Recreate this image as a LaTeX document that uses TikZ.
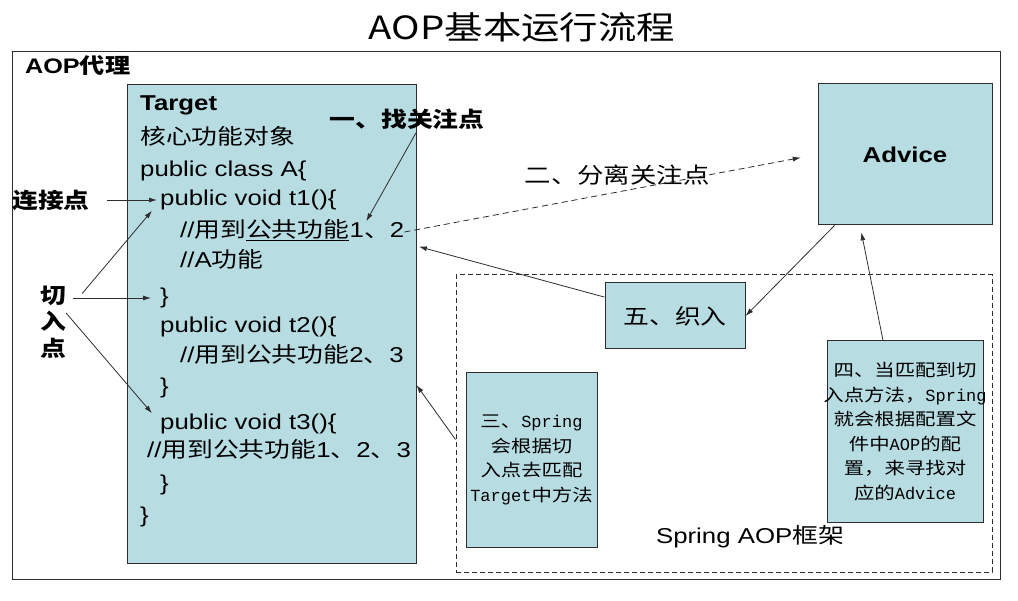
\documentclass[tikz,border=0pt]{standalone}
\usepackage{fontspec}
\setmainfont{Liberation Sans}[FakeStretch=1.2]
\newfontfamily\cjk{Noto Sans CJK SC}[FakeStretch=1.2]
\newfontfamily\mono{Liberation Mono}
\usetikzlibrary{arrows.meta,positioning}
\definecolor{aopcyan}{RGB}{183,221,227}
\definecolor{aopline}{RGB}{45,45,45}

\begin{document}
\begin{tikzpicture}[
  x=1pt, y=-1pt,
  every node/.style={font=\fontsize{21.5}{26}\selectfont, text=black},
  aopbox/.style={draw=aopline, fill=aopcyan, line width=1pt},
  code/.style={anchor=west, inner sep=0pt, text height=16pt, text depth=5pt},
  note/.style={aopbox, align=center, inner xsep=3pt, inner ysep=0pt, font=\fontsize{17}{24.5}\selectfont\cjk},
  tag/.style={font=\fontsize{21.5}{26}\selectfont\bfseries\cjk},
  arrow/.style={-{Latex[length=8pt,width=5pt]}, line width=0.8pt, aopline},
  dasharrow/.style={arrow, dash pattern=on 6pt off 4pt}
]
  \useasboundingbox (0,0) rectangle (1018,601);

  % Frames
  \node (title) [font=\fontsize{32}{36}\selectfont\cjk] at (522,27) {AOP基本运行流程};
  \node (proxy) [draw=aopline, line width=1pt, inner sep=0pt, minimum width=988pt, minimum height=527pt] at (506,315.5) {};
  \node (proxyname) [anchor=west, inner sep=0pt, font=\fontsize{21}{26}\selectfont\bfseries] at (25,66) {AOP{\cjk 代理}};
  \node (frame) [draw=aopline, line width=1pt, dash pattern=on 5pt off 3pt, inner sep=0pt, minimum width=536pt, minimum height=297pt] at (724,423.5) {};
  \node (aopfw) at (750,537) {Spring AOP{\cjk 框架}};

  % Boxes
  \node (target) [aopbox, inner sep=0pt, minimum width=289pt, minimum height=478pt] at (271.5,324) {};
  \node (advice) [aopbox, minimum width=174pt, minimum height=141pt, font=\fontsize{21.5}{26}\selectfont\bfseries] at (905,154.5) {Advice};
  \node (weave) [aopbox, minimum width=140pt, minimum height=66pt, font=\fontsize{21.5}{26}\selectfont\cjk] at (675,316) {五、织入};
  \node (match) [note, text width=125pt, minimum height=174pt] at (531.5,460)
    {三、{\mono Spring}\\会根据切\\入点去匹配\\{\mono Target}中方法};
  \node (lookup) [note, text width=150pt, minimum height=181pt] at (905,431.5)
    {四、当匹配到切\\\makebox[150pt][c]{入点方法，{\mono Spring}}\\就会根据配置文\\件中{\mono AOP}的配\\置，来寻找对\\应的{\mono Advice}};

  % Code in Target
  \node (tgt) [code, font=\fontsize{21.5}{26}\selectfont\bfseries] at (140,105) {Target};
  \node (core) [code] at (140,139) {\cjk 核心功能对象};
  \node (cls) [code] at (140,171) {public class A\{};
  \node (t1sig) [code] at (160,200) {public void t1()\{};
  \node (t1use) [code] at (180,232) {//{\cjk 用到}\underline{\cjk 公共功能}};
  \node (t12) [code, right=0pt of t1use] {1{\cjk 、}2};
  \node (t1a) [code] at (180,262) {//A{\cjk 功能}};
  \node (t1end) [code] at (160,298) {\}};
  \node (t2sig) [code] at (160,327) {public void t2()\{};
  \node (t2use) [code] at (180,357) {//{\cjk 用到公共功能}2{\cjk 、}3};
  \node (t2end) [code] at (160,388) {\}};
  \node (t3sig) [code] at (160,424) {public void t3()\{};
  \node (t3use) [code] at (147,452) {//{\cjk 用到公共功能}1{\cjk 、}2{\cjk 、}3};
  \node (t3end) [code] at (160,485) {\}};
  \node (clsend) [code] at (140,517) {\}};

  % Labels
  \node (joinpt) [tag, anchor=west, inner sep=0pt] at (12,200) {连接点};
  \node (cutpt) [tag, align=center, inner sep=0pt, font=\fontsize{21.5}{26.5}\selectfont\bfseries\cjk] at (53,322) {切\\入\\点};
  \node (findcon) [tag] at (407,119) {一、找关注点};
  \node (split) [font=\fontsize{22}{26}\selectfont\cjk] at (617,175) {二、分离关注点};

  % Paths
  \draw [arrow, shorten <=17pt, shorten >=3pt] (joinpt) -- (t1sig);
  \draw [arrow] ([shift={(16pt,-8pt)}]cutpt.north east) -- ([xshift=-8pt]t1sig.south west);
  \draw [arrow, shorten <=7pt, shorten >=9pt] (cutpt.east |- t1end.west) -- (t1end.west);
  \draw [arrow] ([yshift=9pt]cutpt.east) -- ([xshift=-8pt]t3sig.north west);
  \draw [arrow] ([xshift=9pt]findcon.south) -- (t12.135);
  \draw [dasharrow, shorten >=17pt] (t12.east) -- (advice.west);
  \draw [arrow, shorten >=15pt] (weave.165) -- (t12.south east);
  \draw [arrow] ([xshift=17pt]advice.south west) -- (weave.east);
  \draw [arrow, shorten >=7pt] ([xshift=-22pt]lookup.north) -- ([xshift=-45pt]advice.south);
  \draw [arrow] ([yshift=-16pt]frame.west) -- ([yshift=-61pt]target.east);
\end{tikzpicture}
\end{document}
